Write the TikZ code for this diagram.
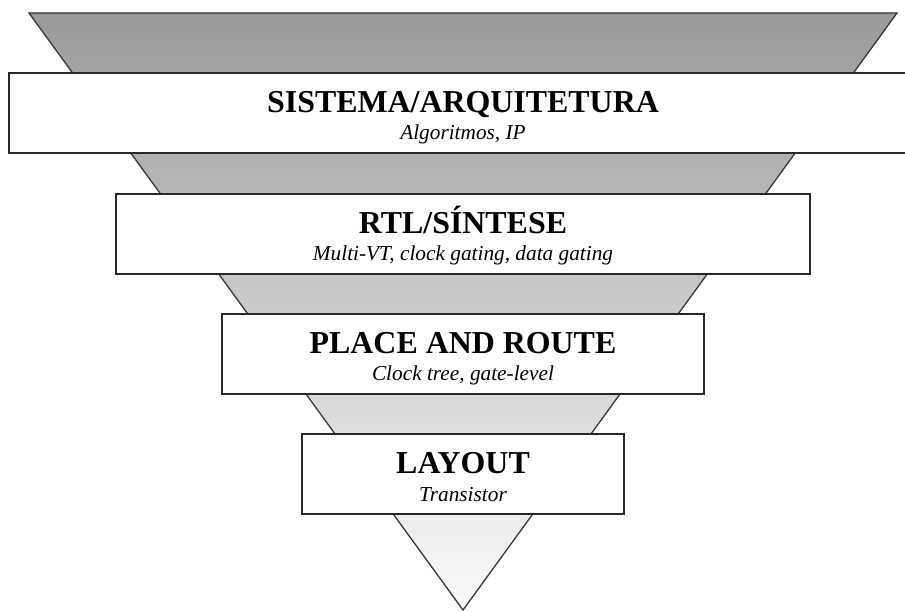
\documentclass[tikz,border=0pt]{standalone}
\usepackage{fontspec}
\setmainfont{Liberation Serif}
\definecolor{funneltop}{RGB}{154,154,154}
\definecolor{funnelbottom}{RGB}{251,251,251}
\definecolor{edgegray}{RGB}{55,55,55}
\definecolor{boxedge}{RGB}{40,40,40}
\begin{document}
\begin{tikzpicture}[x=1pt,y=-1pt,
  stagebox/.style={draw=boxedge, line width=1.3pt, fill=white, rectangle,
    inner sep=0pt, minimum height=80pt},
  stagetitle/.style={anchor=base, inner sep=0pt,
    font=\fontsize{31.9}{36}\selectfont\bfseries},
  stagenote/.style={anchor=base, inner sep=0pt,
    font=\fontsize{21.3}{24}\selectfont\itshape}]
\useasboundingbox (0,0) rectangle (905,612);
\clip (0,0) rectangle (905,612);

% inverted funnel
\coordinate (tl) at (29,13);
\coordinate (tr) at (897,13);
\coordinate (apex) at (463,610);
\shade[top color=funneltop, bottom color=funnelbottom] (tl) -- (tr) -- (apex) -- cycle;
\draw[edgegray, line width=1.3pt, line join=miter] (tl) -- (tr) -- (apex) -- cycle;

% abstraction levels
\node[stagebox, minimum width=910pt] (sys) at (464,113) {};
\node[stagetitle] (sysT) at (463,113) {SISTEMA/ARQUITETURA};
\node[stagenote] (sysN) at (463,140) {Algoritmos, IP};

\node[stagebox, minimum width=694pt] (rtl) at (463,234) {};
\node[stagetitle] (rtlT) at (463,233.5) {RTL/SÍNTESE};
\node[stagenote] (rtlN) at (463,261) {Multi-VT, clock gating, data gating};

\node[stagebox, minimum width=482pt] (pnr) at (463,354) {};
\node[stagetitle] (pnrT) at (463,353.5) {PLACE AND ROUTE};
\node[stagenote] (pnrN) at (463,381) {Clock tree, gate-level};

\node[stagebox, minimum width=322pt] (lay) at (463,474) {};
\node[stagetitle] (layT) at (463,473.5) {LAYOUT};
\node[stagenote] (layN) at (463,501) {Transistor};
\end{tikzpicture}
\end{document}
